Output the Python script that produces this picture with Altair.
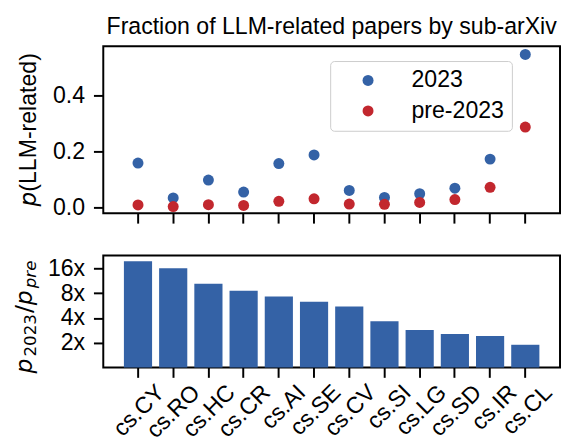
import altair as alt
import pandas as pd

categories = ["cs.CY", "cs.RO", "cs.HC", "cs.CR", "cs.AI", "cs.SE",
              "cs.CV", "cs.SI", "cs.LG", "cs.SD", "cs.IR", "cs.CL"]
p_2023 = [0.158, 0.033, 0.097, 0.054, 0.156, 0.187, 0.060, 0.035, 0.048, 0.068, 0.172, 0.547]
p_pre = [0.008, 0.002, 0.009, 0.006, 0.021, 0.030, 0.011, 0.010, 0.017, 0.027, 0.071, 0.287]
ratio = [19.6, 16.1, 10.4, 8.6, 7.3, 6.3, 5.5, 3.66, 2.86, 2.56, 2.42, 1.89]
series_names = ["2023", "pre-2023"]
series_colors = ["#3462a6", "#c2272e"]
top_ticks = [0.0, 0.2, 0.4]
ratio_ticks = [2, 4, 8, 16]
chart_title = "Fraction of LLM-related papers by sub-arXiv"

FONT = "Liberation Sans"
MATH = "DejaVu Sans"
FS = 23.5
W, H1, H2 = 465, 170, 114

points = pd.DataFrame({
    "category": categories * 2,
    "series": [series_names[0]] * len(categories) + [series_names[1]] * len(categories),
    "p": p_2023 + p_pre,
})
bars = pd.DataFrame({"category": categories, "ratio": ratio})

x_scale = alt.Scale(type="band", domain=categories, paddingInner=0.2, paddingOuter=0.586)


def piece(text, x, y, font, size, italic):
    return alt.Chart(pd.DataFrame({"t": [text]})).mark_text(
        angle=270, align="left", baseline="alphabetic", font=font, fontSize=size,
        fontStyle="italic" if italic else "normal", color="black",
    ).encode(x=alt.value(x), y=alt.value(y), text="t:N")


pts = alt.Chart(points).mark_circle(size=125, opacity=1).encode(
    x=alt.X("category:N", scale=x_scale, sort=categories,
            axis=alt.Axis(labels=False, title=None)),
    y=alt.Y("p:Q", scale=alt.Scale(domain=[-0.022, 0.576], nice=False, zero=False),
            axis=alt.Axis(values=top_ticks, format=".1f", title=None)),
    color=alt.Color("series:N", scale=alt.Scale(domain=series_names, range=series_colors),
                    legend=alt.Legend(title=None, orient="none", legendX=231, legendY=15,
                                      direction="vertical", padding=8, symbolOffset=18.8,
                                      labelOffset=32.5, rowPadding=6, symbolSize=125,
                                      symbolType="circle", labelFont=FONT, labelFontSize=FS,
                                      labelColor="black", strokeColor="#cccccc",
                                      fillColor="white", cornerRadius=4,
                                      symbolStrokeWidth=0, symbolOpacity=1)),
)

top = alt.layer(
    pts,
    piece("p", -68, 163, MATH, FS, True),
    piece("(LLM-related)", -68, 148, FONT, FS, False),
).properties(width=W, height=H1,
             title=alt.TitleParams(chart_title, font=FONT, fontSize=FS, fontWeight="normal",
                                   color="black", anchor="middle", offset=8))

MB, SB = 24, 17
bar = alt.Chart(bars).mark_bar(color=series_colors[0]).encode(
    x=alt.X("category:N", scale=x_scale, sort=categories,
            axis=alt.Axis(title=None, labelAngle=315, labelAlign="right",
                          labelBaseline="top", labelOffset=15, labelPadding=3)),
    y=alt.Y("ratio:Q", scale=alt.Scale(type="log", base=2, domain=[1, 23], nice=False),
            axis=alt.Axis(values=ratio_ticks, labelExpr="datum.value + 'x'", title=None)),
    y2=alt.datum(1),
)

bottom = alt.layer(
    bar,
    piece("p", -72.6, 120, MATH, MB, True),
    piece("2023", -68, 102.8, MATH, SB, False),
    piece("/", -72.6, 58.6, MATH, MB, False),
    piece("p", -72.6, 50.5, MATH, MB, True),
    piece("pre", -68, 33.3, MATH, SB, True),
).properties(width=W, height=H2)

chart = alt.vconcat(top, bottom, spacing=30).resolve_scale(
    color="independent").resolve_legend(color="independent").properties(
    padding={"left": 4, "top": 2, "right": 0, "bottom": 4}
).configure_view(stroke="black", strokeWidth=2).configure_axis(
    labelFont=FONT, labelFontSize=FS, labelColor="black", tickColor="black",
    tickWidth=2, tickSize=10, labelPadding=9, domain=False, grid=False,
)

chart.save("out.html", embed_options={"renderer": "svg", "actions": False})
